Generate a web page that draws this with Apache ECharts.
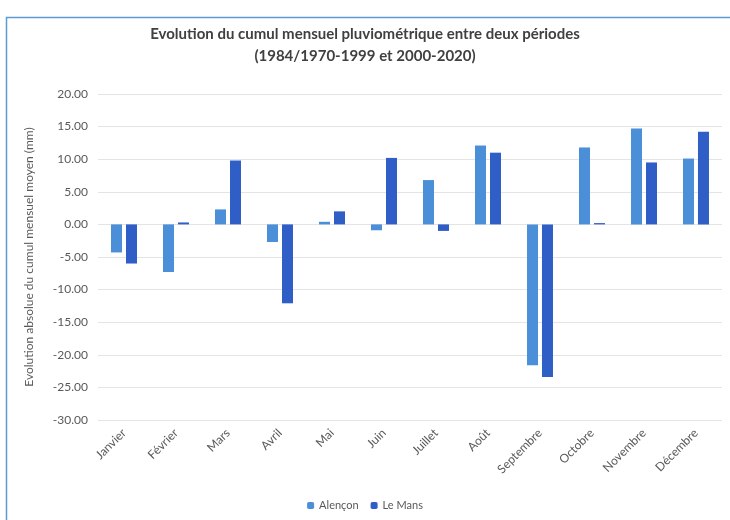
<!DOCTYPE html>
<html><head><meta charset="utf-8">
<script src="https://cdn.jsdelivr.net/npm/echarts@6/dist/echarts.min.js"></script>
<style>html,body{margin:0;padding:0;background:#fff}#c{width:730px;height:520px}</style>
</head><body><div id="c"></div>
<script>
const categories = ['Janvier','Février','Mars','Avril','Mai','Juin','Juillet','Août','Septembre','Octobre','Novembre','Décembre'];
const alencon = [-4.3, -7.3, 2.3, -2.7, 0.4, -0.9, 6.8, 12.1, -21.6, 11.8, 14.7, 10.1];
const leMans = [-6.0, 0.3, 9.8, -12.1, 2.0, 10.2, -1.0, 11.0, -23.4, 0.2, 9.5, 14.2];
const yTicks = {min: -30, max: 20, interval: 5};
const font = 'Lato, "Open Sans", sans-serif';
const chart = echarts.init(document.getElementById('c'));
chart.setOption({
  animation: false,
  backgroundColor: '#fff',
  graphic: [{type:'rect', shape:{x:6.5,y:17.5,width:740,height:520}, style:{fill:'none',stroke:'#5b9bd5',lineWidth:1.5}, silent:true}],
  title: {
    text: 'Evolution du cumul mensuel pluviométrique entre deux périodes\n(1984/1970-1999 et 2000-2020)',
    left: 'center', top: 18,
    textStyle: {fontFamily: font, fontSize: 15, fontWeight: 'bold', color: '#404040', lineHeight: 22}
  },
  legend: {
    bottom: 4, left: 'center', itemWidth: 7, itemHeight: 7, itemGap: 12,
    textStyle: {fontFamily: font, fontSize: 11, color: '#595959'},
    data: ['Alençon','Le Mans']
  },
  grid: {left: 98, right: 8, top: 94, bottom: 100, containLabel: false, outerBoundsMode: 'none'},
  xAxis: {
    type: 'category', data: categories,
    axisLine: {show: false, onZero: false}, axisTick: {show: false},
    axisLabel: {rotate: 45, interval: 0, fontFamily: font, fontSize: 12, color: '#595959', margin: 11}
  },
  yAxis: {
    type: 'value', min: yTicks.min, max: yTicks.max, interval: yTicks.interval,
    name: 'Evolution absolue du cumul mensuel moyen (mm)', nameLocation: 'middle', nameGap: 63,
    nameTextStyle: {fontFamily: font, fontSize: 12, color: '#595959'},
    axisLabel: {formatter: v => v.toFixed(2), fontFamily: font, fontSize: 12, color: '#595959', margin: 10},
    splitLine: {lineStyle: {color: '#e4e4e4'}}
  },
  series: [
    {name: 'Alençon', type: 'bar', data: alencon, barWidth: 11, barGap: '36%', itemStyle: {color: '#4a8fd8'}},
    {name: 'Le Mans', type: 'bar', data: leMans, barWidth: 11, itemStyle: {color: '#2f5ec6'}}
  ]
});
</script></body></html>
